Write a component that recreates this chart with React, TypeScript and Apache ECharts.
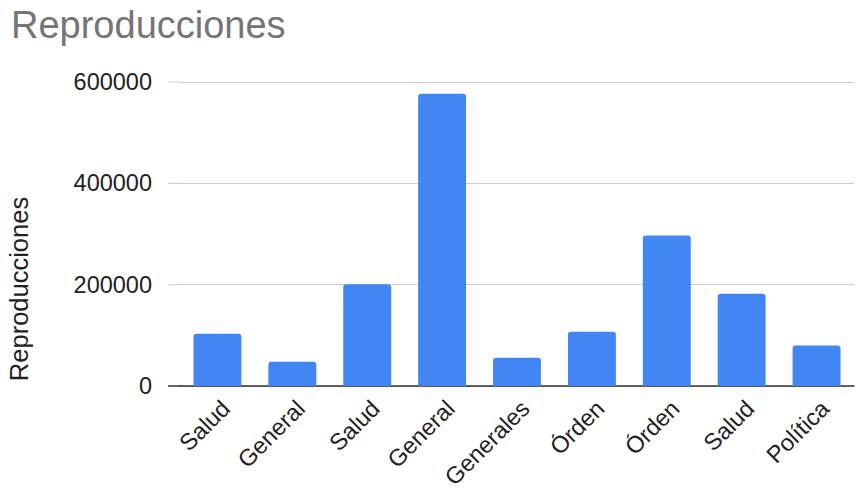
import React, { useEffect, useRef } from "react";
import * as echarts from "echarts";

const categories = ["Salud", "General", "Salud", "General", "Generales", "Órden", "Órden", "Salud", "Política"];
const reproducciones = [103000, 48000, 201000, 577000, 56000, 107000, 297000, 182000, 80000];
const yTickValues = [0, 200000, 400000, 600000];

const FONT = "Liberation Sans, Arial, sans-serif";

export default function App() {
  const ref = useRef<HTMLDivElement>(null);
  useEffect(() => {
    const chart = echarts.init(ref.current!, undefined, { renderer: "svg" });
    const yTitle = {
      type: "text",
      x: 19,
      y: 289,
      rotation: Math.PI / 2,
      style: {
        text: "Reproducciones",
        fontSize: 25.5,
        fill: "#222222",
        fontFamily: FONT,
        align: "center",
        verticalAlign: "middle",
      },
    };
    chart.setOption({
      animation: false,
      backgroundColor: "#ffffff",
      textStyle: { fontFamily: FONT },
      title: {
        text: "Reproducciones",
        left: 6,
        top: 1,
        textStyle: { fontSize: 38, fontWeight: "normal", color: "#757575", fontFamily: FONT },
      },
      grid: { left: 180, right: 3, top: 82, bottom: 111, containLabel: false },
      xAxis: {
        type: "category",
        data: categories,
        axisLine: { show: true, lineStyle: { color: "#333333", width: 1.5 } },
        axisTick: { show: false },
        axisLabel: {
          rotate: 45,
          fontSize: 23.5,
          color: "#222222",
          margin: 10,
          interval: 0,
          verticalAlign: "top",
        },
      },
      yAxis: {
        type: "value",
        min: yTickValues[0],
        max: yTickValues[yTickValues.length - 1],
        interval: yTickValues[1] - yTickValues[0],
        axisLine: { show: false },
        axisTick: { show: false },
        axisLabel: { fontSize: 23.5, color: "#222222", margin: 28, formatter: (v: number) => String(v) },
        splitLine: { lineStyle: { color: "#cccccc", width: 1 } },
      },
      graphic: [yTitle],
      series: [
        {
          type: "bar",
          data: reproducciones,
          barCategoryGap: "36%",
          itemStyle: { color: "#4285F4", borderRadius: [3, 3, 0, 0] },
        },
      ],
    });
    // extend gridlines and axis line slightly to the left, as in the reference
    const ext: any[] = yTickValues.map((v, i) => {
      const y = chart.convertToPixel({ yAxisIndex: 0 }, v) as number;
      return {
        type: "line",
        shape: { x1: 168, y1: y, x2: 181, y2: y },
        style: i === 0 ? { stroke: "#333333", lineWidth: 1.5 } : { stroke: "#cccccc", lineWidth: 1 },
        z: 1,
      };
    });
    chart.setOption({ graphic: [yTitle, ...ext] });
    return () => chart.dispose();
  }, []);
  return <div ref={ref} style={{ width: 857, height: 497, position: "absolute", left: 0, top: 0 }} />;
}
